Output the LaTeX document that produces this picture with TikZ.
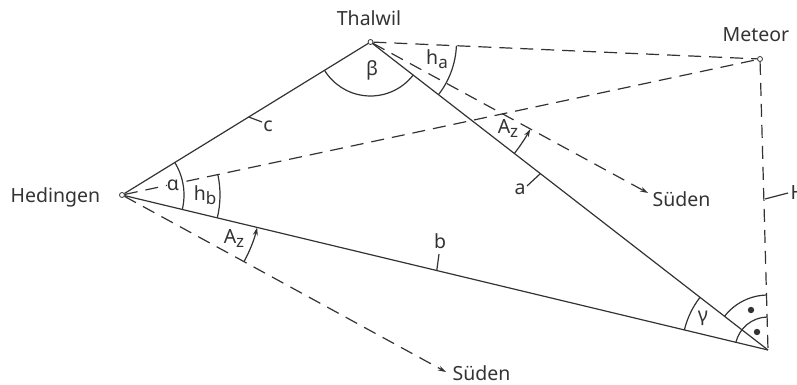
\documentclass[tikz,border=0pt]{standalone}
\usepackage{fontspec}
\setmainfont{Noto Sans}
\usepackage{tikz}
\usetikzlibrary{arrows.meta}
\newcommand{\lowidx}[1]{\raisebox{-4pt}{\fontsize{17}{17}\selectfont #1}}

\begin{document}
\begin{tikzpicture}[
        yscale=-1,
        x=1pt,
        y=1pt,
        line width=1.2pt,
        color=black!80,
        >={Stealth[length=8pt,width=5pt]},
        every node/.style={font=\fontsize{19.5}{21}\selectfont, inner sep=0pt},
        station/.style={circle, draw, fill=white, line width=0.8pt, minimum size=5pt},
        sight/.style={dashed, dash pattern=on 13pt off 8pt}
    ]
    \useasboundingbox (0,0) rectangle (797,385);

    \node[station] (hedingen) at (122,195) {};
    \node[station] (thalwil) at (370.5,42) {};
    \node[station] (meteor) at (760,59) {};
    \coordinate (foot) at (768,350);
    \coordinate (southb) at (446,372);
    \coordinate (southa) at (648,193);

    \node[anchor=west] (lhedingen) at (10,197) {Hedingen};
    \node (lthalwil) at (369,18) {Thalwil};
    \node (lmeteor) at (756,35) {Meteor};
    \node[anchor=west] (lsuedena) at (652,199) {Süden};
    \node[anchor=west] (lsuedenb) at (452,373) {Süden};
    \node[anchor=west] (lh) at (790,193) {H};

    \draw (hedingen) -- (thalwil);
    \draw (thalwil) -- (foot);
    \draw (hedingen) -- (foot);
    \draw[sight] (hedingen) -- (meteor);
    \draw[sight] (thalwil) -- (meteor);
    \draw[sight] (meteor) -- (foot);
    \draw[sight, ->] (thalwil) -- (southa);
    \draw[sight, ->] (hedingen) -- (southb);

    % angles at Hedingen
    \draw (hedingen) ++(-31.6:62) arc[start angle=-31.6, end angle=13.5, radius=62];
    \draw (hedingen) ++(-12:98) arc[start angle=-12, end angle=13.5, radius=98];
    \draw[->] (hedingen) ++(28.6:139) arc[start angle=28.6, end angle=13.5, radius=139];
    % angles at Thalwil
    \draw (thalwil) ++(37.8:54) arc[start angle=37.8, end angle=148.4, radius=54];
    \draw (thalwil) ++(2.5:86) arc[start angle=2.5, end angle=37.8, radius=86];
    \draw[->] (thalwil) ++(37.8:182) arc[start angle=37.8, end angle=28.6, radius=182];
    % angles at the foot
    \draw (foot) ++(193.5:86) arc[start angle=193.5, end angle=217.8, radius=86];
    \draw (foot) ++(217.8:55) arc[start angle=217.8, end angle=268.4, radius=55];
    \draw (foot) ++(193.5:33) arc[start angle=193.5, end angle=268.4, radius=33];

    \fill (751,310) circle (3.2);
    \fill (757,332) circle (3.2);

    \node[fill=white] (lalpha) at (173,185) {α};
    \node (lbeta) at (372,70) {β};
    \node (lgamma) at (703,318) {γ};
    \node (lhb) at (205,195) {h\lowidx{b}};
    \node (lha) at (437,59) {h\lowidx{a}};
    \node (lazb) at (234,239) {A\lowidx{z}};
    \node (laza) at (508,129) {A\lowidx{z}};

    % side labels
    \node (lc) at (268,126) {c};
    \node (la) at (520,189) {a};
    \node (lb) at (440,241) {b};
    \path (hedingen) -- (thalwil) coordinate[pos=0.51] (tickc);
    \path (thalwil) -- (foot) coordinate[pos=0.424] (ticka);
    \path (hedingen) -- (foot) coordinate[pos=0.485] (tickb);
    \coordinate (endc) at (262,122);
    \coordinate (enda) at (527,186);
    \coordinate (endb) at (439,254);
    \coordinate (tickh) at (765,199);
    \coordinate (endh) at (788,193);
    \draw (tickc) -- (endc);
    \draw (ticka) -- (enda);
    \draw (tickb) -- (endb);
    \draw (tickh) -- (endh);
\end{tikzpicture}
\end{document}
